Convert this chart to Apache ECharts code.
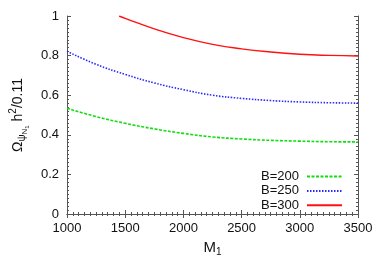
<!DOCTYPE html>
<html><head><meta charset="utf-8">
<script src="https://cdn.jsdelivr.net/npm/echarts@6/dist/echarts.min.js"></script>
<style>html,body{margin:0;padding:0;background:#fff}#c{width:382px;height:267px}</style>
</head><body><div id="c"></div>
<script>
var m200 = [1000, 1250, 1500, 1750, 2000, 2250, 2500, 2750, 3000, 3250, 3500];
var b200 = [0.534, 0.492, 0.458, 0.430, 0.407, 0.389, 0.379, 0.372, 0.368, 0.365, 0.364];
var m250 = [1000, 1250, 1500, 1750, 2000, 2250, 2500, 2750, 3000, 3250, 3500];
var b250 = [0.822, 0.756, 0.705, 0.662, 0.628, 0.600, 0.584, 0.573, 0.566, 0.562, 0.560];
var m300 = [1448, 1500, 1750, 2000, 2250, 2500, 2750, 3000, 3250, 3500];
var b300 = [1.000, 0.988, 0.935, 0.891, 0.857, 0.834, 0.818, 0.807, 0.801, 0.798];
var seriesNames = ['B=200', 'B=250', 'B=300'];
var xTicks = [1000, 1500, 2000, 2500, 3000, 3500];
var yTicks = [0, 0.2, 0.4, 0.6, 0.8, 1];

function pairs(xs, ys) { return xs.map(function (x, i) { return [x, ys[i]]; }); }
var font = 'Liberation Sans, Arial, sans-serif';
var axCol = '#555';
function xa(pos, labels) {
  return {
    type: 'value', position: pos, min: xTicks[0], max: xTicks[xTicks.length - 1], interval: 500,
    axisLine: { show: true, lineStyle: { color: axCol, width: 1 } },
    axisTick: { show: true, inside: true, length: 4, lineStyle: { color: axCol } },
    minorTick: { show: true, splitNumber: 10, length: 2, lineStyle: { color: axCol } },
    splitLine: { show: false },
    axisLabel: { show: labels, color: '#111', fontSize: 13, fontFamily: font, margin: 8,
      formatter: function (v) { return String(v); } },
    name: labels ? '{m|M}{s|1}' : '', nameLocation: 'middle', nameGap: 25,
    nameTextStyle: { rich: {
      m: { fontSize: 15, fontFamily: font, color: '#111' },
      s: { fontSize: 10, fontFamily: font, color: '#111', padding: [8, 0, 0, 0] }
    } }
  };
}
function ya(pos, labels) {
  return {
    type: 'value', position: pos, min: 0, max: 1, interval: 0.2,
    axisLine: { show: true, lineStyle: { color: axCol, width: 1 } },
    axisTick: { show: true, inside: true, length: 4, lineStyle: { color: axCol } },
    minorTick: { show: true, splitNumber: 10, length: 2, lineStyle: { color: axCol } },
    splitLine: { show: false },
    axisLabel: { show: labels, color: '#111', fontSize: 13, fontFamily: font, margin: 8,
      formatter: function (v) { return String(Math.round(v * 10) / 10); } },
    name: labels ? '{o|Ω}{p|ψ}{n|N}{k|1}{o| h}{q|2}{o|/0.11}' : '', nameLocation: 'middle', nameGap: 37, nameRotate: 90,
    nameTextStyle: { rich: {
      o: { fontSize: 14, fontFamily: font, color: '#111' },
      p: { fontSize: 10, fontFamily: font, color: '#111', padding: [8, 0, 0, 0] },
      n: { fontSize: 8, fontFamily: font, color: '#111', padding: [14, 0, 0, 0] },
      k: { fontSize: 6, fontFamily: font, color: '#111', padding: [18, 0, 0, 0] },
      q: { fontSize: 10, fontFamily: font, color: '#111', padding: [0, 0, 10, 0] }
    } }
  };
}
var chart = echarts.init(document.getElementById('c'), null, { renderer: 'canvas' });
chart.setOption({
  animation: false,
  backgroundColor: '#fff',
  grid: { left: 67, right: 24, top: 16, bottom: 53, containLabel: false, outerBoundsMode: 'none' },
  xAxis: [xa('bottom', true), xa('top', false)],
  yAxis: [ya('left', true), ya('right', false)],
  legend: {
    orient: 'vertical', right: 39, top: 170, align: 'right', padding: 0,
    itemWidth: 35, itemHeight: 10, itemGap: 1.4,
    itemStyle: { opacity: 0 },
    textStyle: { fontSize: 13, fontFamily: font, color: '#111', padding: [0, 3, 0, 0] },
    data: seriesNames
  },
  series: [
    { name: seriesNames[0], type: 'line', smooth: true, symbol: 'none', showSymbol: false, data: pairs(m200, b200),
      lineStyle: { color: '#11dd11', width: 1.6, type: [3, 1.5] }, itemStyle: { color: '#11dd11' } },
    { name: seriesNames[1], type: 'line', smooth: true, symbol: 'none', showSymbol: false, data: pairs(m250, b250),
      lineStyle: { color: '#2a2aff', width: 1.6, type: [1.5, 1.5] }, itemStyle: { color: '#2a2aff' } },
    { name: seriesNames[2], type: 'line', smooth: true, symbol: 'none', showSymbol: false, data: pairs(m300, b300),
      lineStyle: { color: '#ff1111', width: 1.4 }, itemStyle: { color: '#ff1111' } }
  ]
});
</script></body></html>
